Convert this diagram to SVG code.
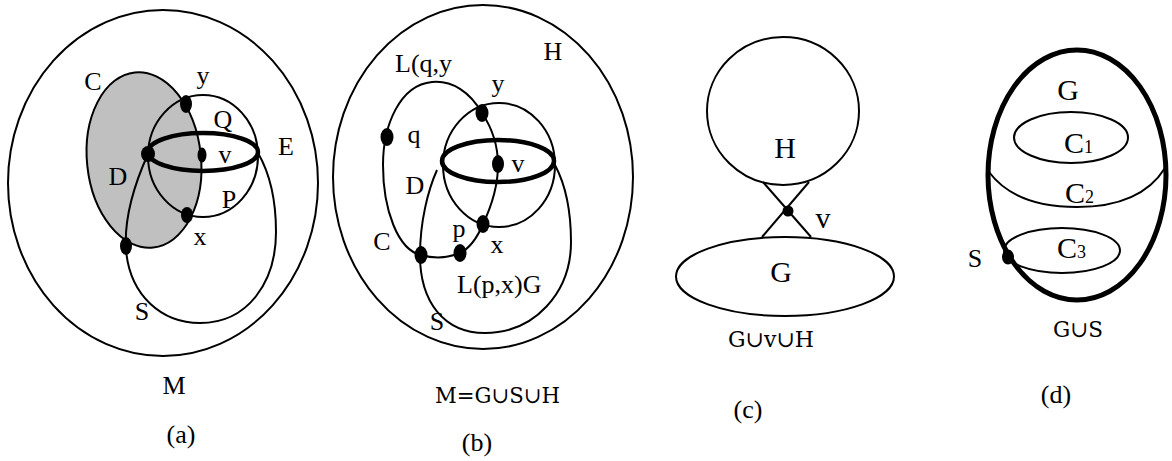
<svg xmlns="http://www.w3.org/2000/svg" width="1172" height="461" viewBox="0 0 1172 461">
<style>
.ln{fill:none;stroke:#000;stroke-width:2}
.thk{fill:none;stroke:#000;stroke-width:4.5}
.dot{fill:#000}
text{font-family:"Liberation Serif","Times New Roman","DejaVu Serif",serif;font-size:26px;fill:#000}
.m{text-anchor:middle}
.big{font-size:30px}
.uni{font-family:"DejaVu Serif","Liberation Serif",serif;font-size:22px}
.sub{font-size:18px}
</style>
<rect width="1172" height="461" fill="#fff"/>

<!-- Panel (a) -->
<g id="panel-a">
  <g id="a-M"><ellipse class="ln" cx="163" cy="183" rx="155" ry="173"/></g>
  <g id="a-C"><ellipse cx="144" cy="160" rx="57" ry="88" transform="rotate(-6 144 160)" fill="#c0c0c0" stroke="#000" stroke-width="2"/></g>
  <g id="a-edges">
    <ellipse class="ln" cx="203" cy="156" rx="55" ry="61"/>
    <path class="ln" d="M148,154 C134,185 124,220 126,250 C130,296 162,323 200,323 C248,323 276,282 276,232 C276,198 269,172 258,153"/>
    <ellipse class="thk" cx="203" cy="152" rx="55" ry="19"/>
  </g>
  <g id="a-nodes">
    <ellipse class="dot" cx="186" cy="104" rx="6" ry="9"/>
    <ellipse class="dot" cx="148" cy="154" rx="7" ry="8"/>
    <ellipse class="dot" cx="202" cy="155" rx="4.5" ry="7.5"/>
    <ellipse class="dot" cx="187" cy="215" rx="6" ry="8"/>
    <ellipse class="dot" cx="126" cy="246" rx="6" ry="9"/>
  </g>
  <g id="a-labels">
    <text class="m" x="93" y="90">C</text>
    <text class="m" x="203" y="84">y</text>
    <text class="m" x="223" y="128">Q</text>
    <text class="m" x="225" y="163">v</text>
    <text class="m" x="286" y="155">E</text>
    <text class="m" x="118" y="185">D</text>
    <text class="m" x="229" y="208">P</text>
    <text class="m" x="200" y="245">x</text>
    <text class="m" x="142" y="320">S</text>
    <text class="m" x="174" y="394">M</text>
    <text class="m" x="181" y="443">(a)</text>
  </g>
</g>

<!-- Panel (b) -->
<g id="panel-b">
  <g id="b-M"><ellipse class="ln" cx="483" cy="177" rx="150" ry="172"/></g>
  <g id="b-edges">
    <path class="ln" d="M482,113 C470,92 452,80 432,82 C400,85 383,125 383,165 C383,210 398,250 421,255 C435,259 448,258 460,253 C470,248 478,236 483,224 C492,205 498,185 498,165 C498,145 492,128 482,113 Z"/>
    <ellipse class="ln" cx="499" cy="165" rx="56" ry="62"/>
    <path class="ln" d="M437,170 C428,190 420,222 420,255 C420,302 444,333 485,333 C535,333 571,292 571,242 C571,205 564,182 555,165"/>
    <ellipse class="thk" cx="498" cy="161" rx="56" ry="21"/>
  </g>
  <g id="b-nodes">
    <ellipse class="dot" cx="482" cy="113" rx="6.5" ry="9"/>
    <ellipse class="dot" cx="387" cy="137" rx="6.5" ry="9"/>
    <ellipse class="dot" cx="498" cy="164" rx="6" ry="9"/>
    <ellipse class="dot" cx="483" cy="224" rx="6.5" ry="9"/>
    <ellipse class="dot" cx="421" cy="255" rx="6.5" ry="9"/>
    <ellipse class="dot" cx="460" cy="253" rx="6.5" ry="9"/>
  </g>
  <g id="b-labels">
    <text class="m" x="553" y="60">H</text>
    <text x="395" y="72">L(q,y</text>
    <text class="m" x="498" y="92">y</text>
    <text class="m" x="414" y="143">q</text>
    <text class="m" x="518" y="172">v</text>
    <text class="m" x="415" y="194">D</text>
    <text class="m" x="382" y="250">C</text>
    <text class="m" x="459" y="237">p</text>
    <text class="m" x="497" y="253">x</text>
    <text x="457" y="293">L(p,x)G</text>
    <text class="m" x="437" y="330">S</text>
    <text class="uni" x="435" y="403" textLength="125" lengthAdjust="spacingAndGlyphs">M=G∪S∪H</text>
    <text class="m" x="477" y="451">(b)</text>
  </g>
</g>

<!-- Panel (c) -->
<g id="panel-c">
  <g id="c-H"><ellipse class="ln" cx="783" cy="111" rx="76" ry="74"/></g>
  <g id="c-G"><ellipse class="ln" cx="785" cy="276.5" rx="109" ry="39.5"/></g>
  <g id="c-edges">
    <line class="ln" x1="763" y1="182" x2="811" y2="237"/>
    <line class="ln" x1="809" y1="182" x2="762" y2="237"/>
  </g>
  <g id="c-v"><circle class="dot" cx="788" cy="211" r="5.5"/></g>
  <g id="c-labels">
    <text class="m big" x="785" y="158">H</text>
    <text class="m big" x="823" y="228">v</text>
    <text class="m big" x="781" y="282">G</text>
    <text class="uni" x="728" y="347" textLength="86" lengthAdjust="spacingAndGlyphs">G∪v∪H</text>
    <text class="m" x="748" y="418">(c)</text>
  </g>
</g>

<!-- Panel (d) -->
<g id="panel-d">
  <g id="d-G"><ellipse cx="1077" cy="175" rx="89" ry="125" fill="none" stroke="#000" stroke-width="5"/></g>
  <g id="d-C1"><ellipse class="ln" cx="1071" cy="137.5" rx="57" ry="25.5"/></g>
  <g id="d-C2"><path class="ln" d="M989,172 C1010,200 1045,207 1077,207 C1110,207 1145,200 1165,168"/></g>
  <g id="d-C3"><ellipse class="ln" cx="1062" cy="250.5" rx="58" ry="22.5"/></g>
  <g id="d-S"><ellipse class="dot" cx="1008" cy="257" rx="6" ry="7.5"/></g>
  <g id="d-labels">
    <text class="m big" x="1068" y="100">G</text>
    <text class="big" x="1064" y="153">C<tspan class="sub">1</tspan></text>
    <text class="big" x="1065" y="203">C<tspan class="sub">2</tspan></text>
    <text class="big" x="1057" y="258">C<tspan class="sub">3</tspan></text>
    <text class="m" x="975" y="267">S</text>
    <text class="uni" x="1053" y="337" textLength="50" lengthAdjust="spacingAndGlyphs">G∪S</text>
    <text class="m" x="1056" y="403">(d)</text>
  </g>
</g>
</svg>
